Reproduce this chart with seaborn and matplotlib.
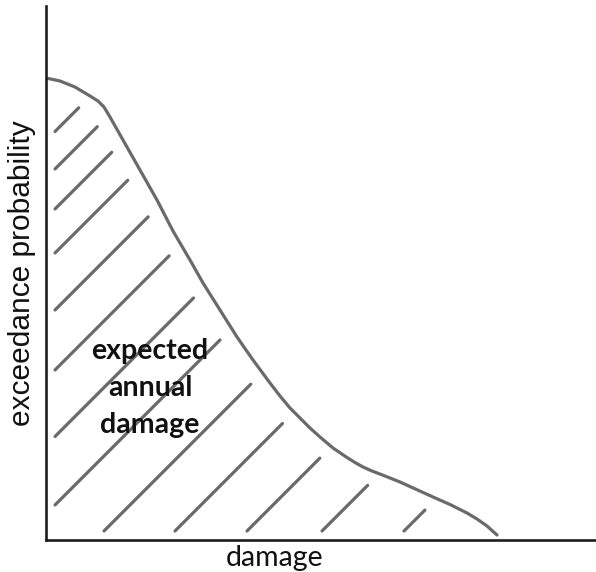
import numpy as np
import pandas as pd
import matplotlib
matplotlib.use("Agg")
import matplotlib.pyplot as plt
import seaborn as sns

# exceedance curve (arbitrary units, no ticks shown)
damage = [0, 14, 29, 44, 52, 58, 64, 77, 94, 111, 127, 144, 157, 174, 191,
          207, 224, 234, 244, 254, 264, 274, 287, 301, 309, 317, 326, 339,
          354, 387, 404, 421, 431, 441, 451]
probability = [462, 459, 453, 444, 439, 433, 423, 400, 370, 340, 309, 280, 257,
               230, 203, 180, 157, 144, 132, 122, 112, 103, 92, 82.5, 77.5, 73,
               69, 64, 58, 43, 35.5, 27, 21, 14, 5]

# hand drawn hatch strokes: y = x + offset, one per stroke
hatch_offsets = [399.5, 362, 322, 278, 221, 161, 94.5, 26, -49, -120, -192, -267, -349]

x_label = "damage"
y_label = "exceedance probability"
area_label = "expected\nannual\ndamage"

CURVE_GREY = "#6a6a6a"
AXIS_COLOR = "#1e1e1e"


def hatch_segments(xs, ys, offsets, margin=9, gap=11.5):
    grid = np.linspace(xs[0], xs[-1], 4000)
    curve = np.interp(grid, xs, ys)
    rows = []
    for i, b in enumerate(offsets):
        x0 = max(margin, margin - b)
        diff = curve - (grid + b)
        cross = np.where((diff[:-1] > 0) & (diff[1:] <= 0))[0]
        x_hit = grid[cross[0]] if len(cross) else grid[-1]
        x1 = x_hit - gap
        rows.append({"seg": i, "x": x0, "y": x0 + b})
        rows.append({"seg": i, "x": x1, "y": x1 + b})
    return pd.DataFrame(rows)


def main():
    sns.set_style("white")

    fig = plt.figure(figsize=(5.96, 5.72), dpi=100)
    ax = fig.add_axes([46 / 596, 32 / 572, 550 / 596, 534 / 572])

    curve_df = pd.DataFrame({"damage": damage, "probability": probability})
    sns.lineplot(data=curve_df, x="damage", y="probability", sort=False,
                 estimator=None, color=CURVE_GREY, linewidth=2.3, ax=ax)

    hatch_df = hatch_segments(damage, probability, hatch_offsets)
    sns.lineplot(data=hatch_df, x="x", y="y", units="seg", estimator=None,
                 color=CURVE_GREY, linewidth=2.3, ax=ax)

    ax.text(104, 152, area_label, ha="center", va="center", multialignment="center",
            fontsize=20.5, fontweight="bold", family="Lato", linespacing=1.5,
            color="#111111")

    ax.set_xlim(0, 550)
    ax.set_ylim(0, 534)
    ax.set_xticks([])
    ax.set_yticks([])

    sns.despine(ax=ax)
    for side in ("left", "bottom"):
        ax.spines[side].set_color(AXIS_COLOR)
        ax.spines[side].set_linewidth(1.9)

    ax.set_xlabel(x_label, fontsize=20.5, family="Lato", color="#111111", va="center")
    ax.xaxis.set_label_coords(0.415, -0.034)
    ax.set_ylabel(y_label, fontsize=21.5, family="Liberation Sans", color="#111111",
                  va="center")
    ax.yaxis.set_label_coords(-0.044, 0.5)

    fig.savefig("out.png", dpi=100)
    plt.close(fig)


if __name__ == "__main__":
    main()
